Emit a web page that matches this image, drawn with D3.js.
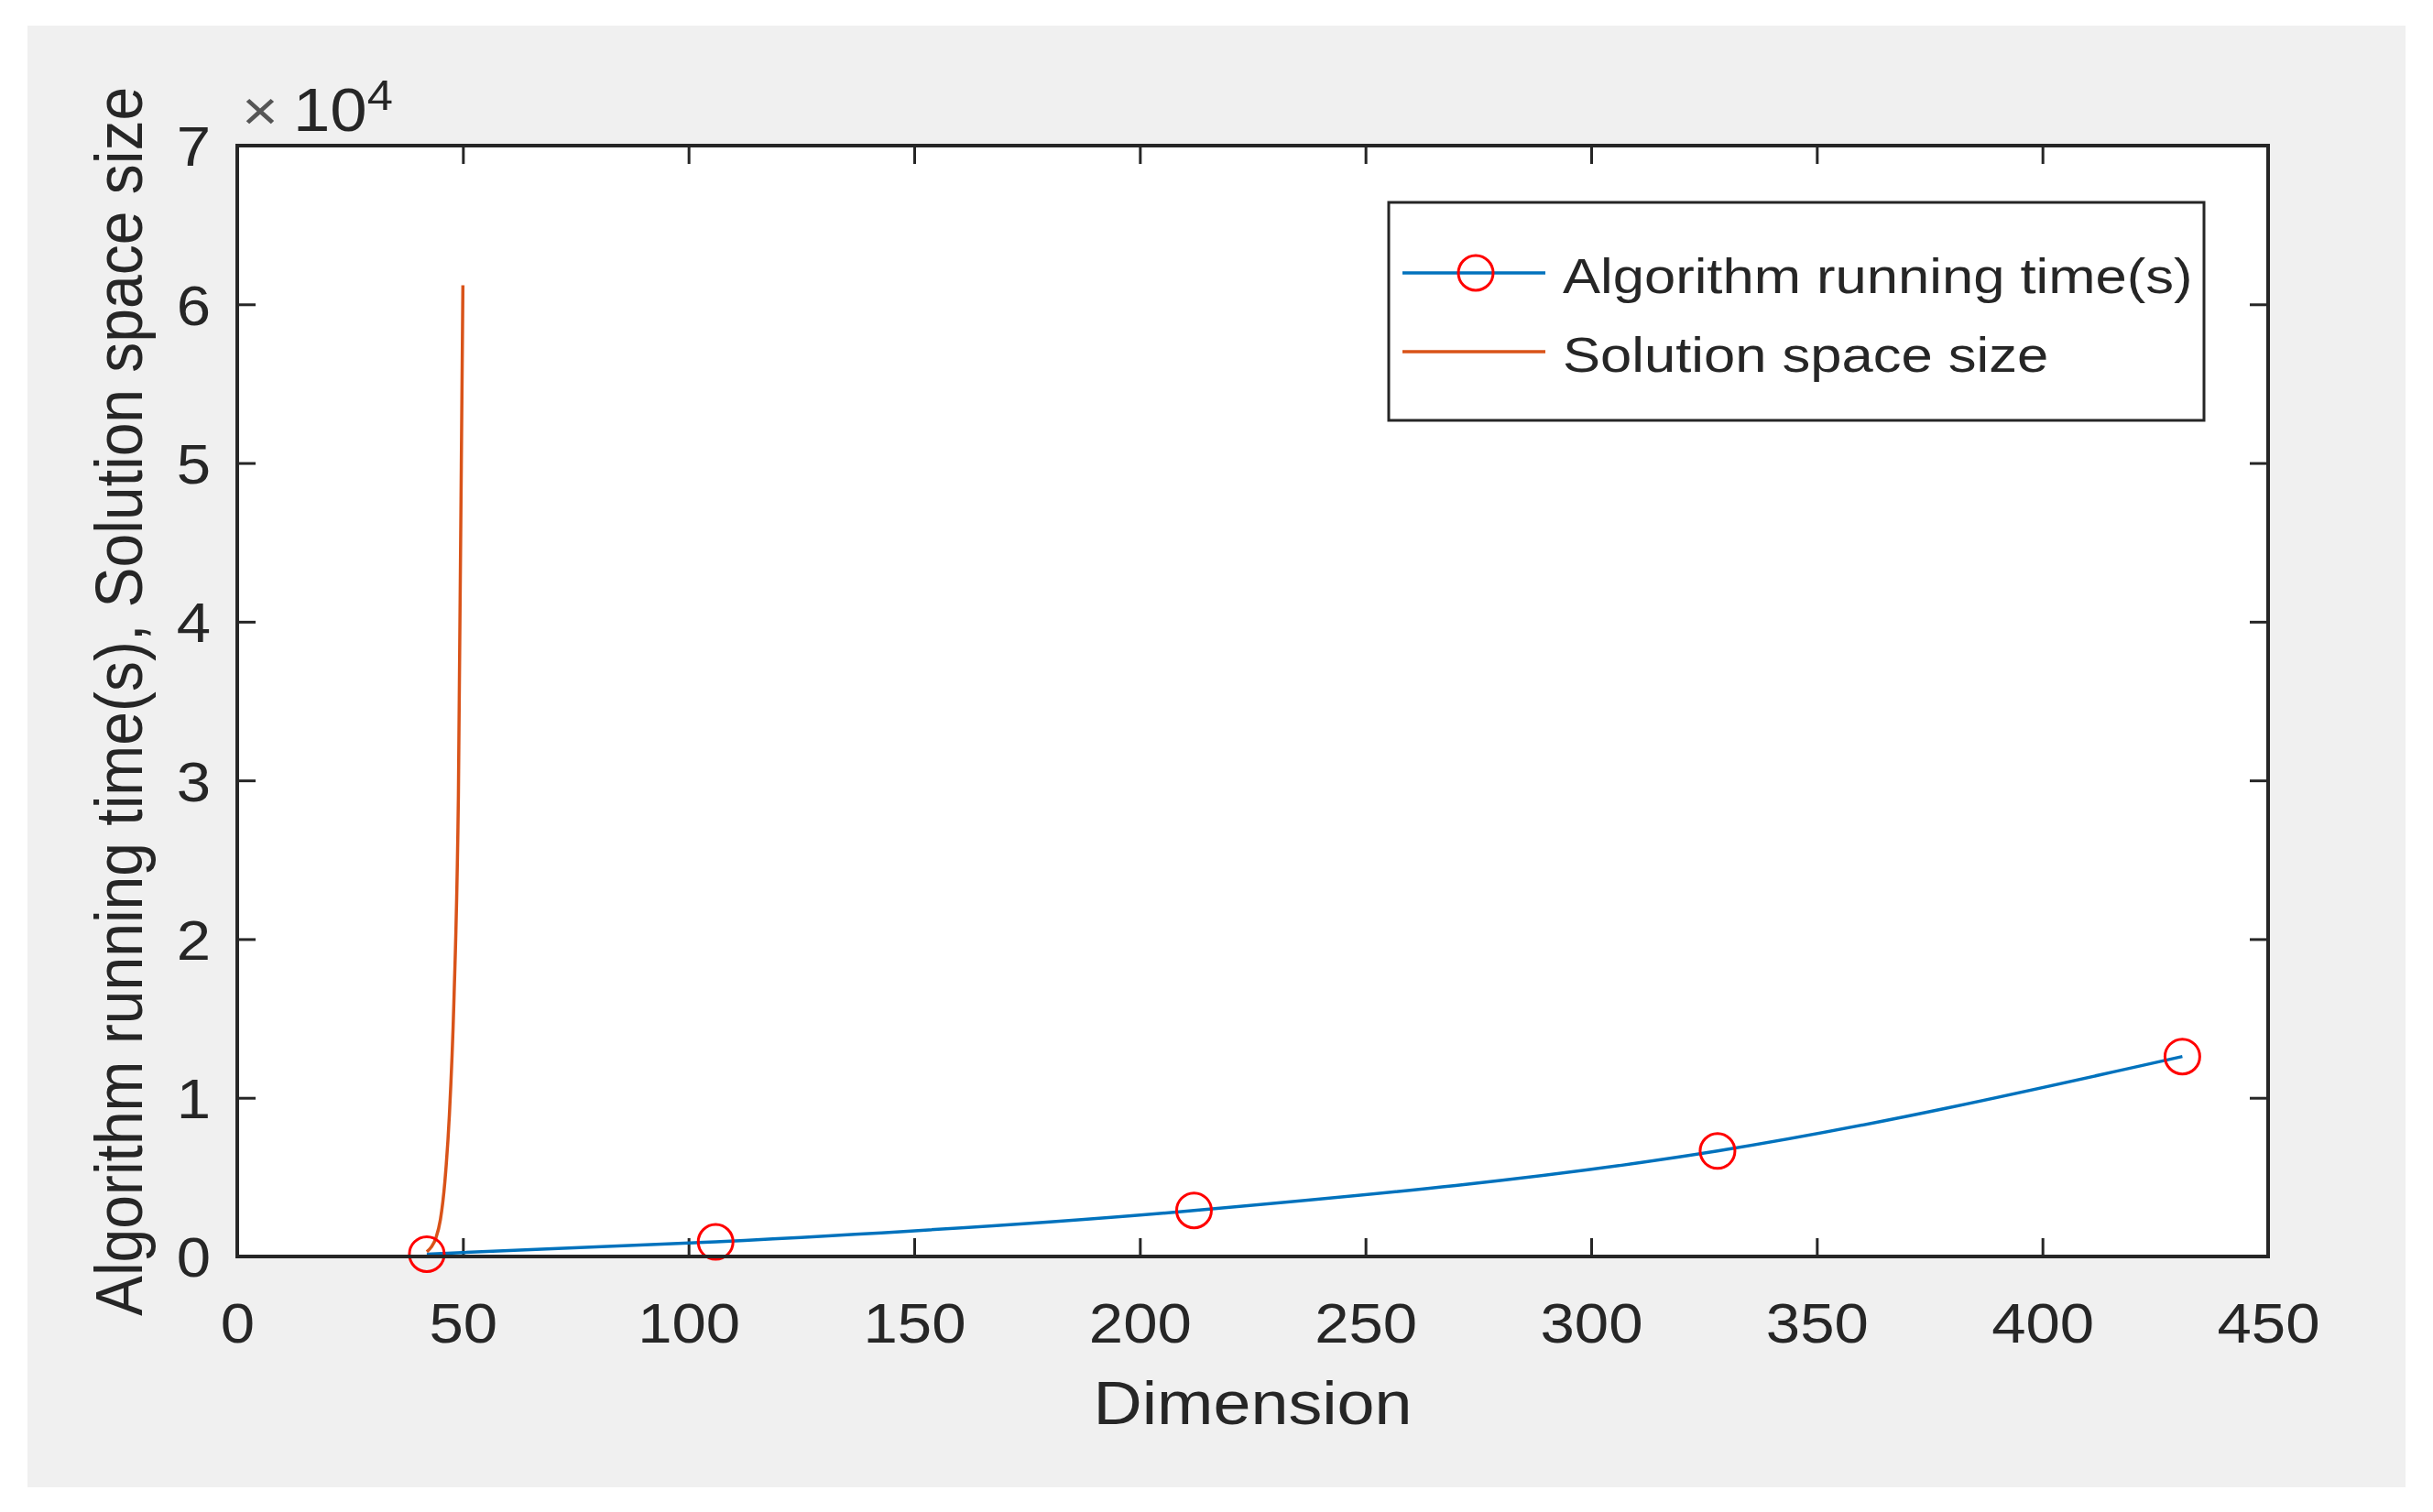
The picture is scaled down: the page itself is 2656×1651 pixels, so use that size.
<!DOCTYPE html>
<html>
<head>
<meta charset="utf-8">
<title>Algorithm running time vs dimension</title>
<script src="https://d3js.org/d3.v7.min.js"></script>
<style>
  body { margin: 0; background: #fff; }
  text { font-family: "Liberation Sans", Arial, Helvetica, sans-serif; fill: #262626; }
</style>
</head>
<body>
<svg width="2656" height="1651"></svg>
<script>
// data
const dims = [42, 106, 212, 328, 431];
const runTime = [150, 920, 2900, 6650, 12600];

const spaceDims = [42, 43, 44, 45, 46, 47, 48, 49, 50];
const spaceSize = [300, 600, 1150, 2300, 4700, 8900, 16000, 29000, 61200];

const xTicks = [0, 50, 100, 150, 200, 250, 300, 350, 400, 450];
const yTicks = [0, 10000, 20000, 30000, 40000, 50000, 60000, 70000];

const legendNames = ["Algorithm running time(s)", "Solution space size"];

const svg = d3.select("svg"),
    width = +svg.attr("width"),
    height = +svg.attr("height");

const stretch = 1.1;   // the figure text is a bit wide
const ink = "#262626";
const blue = "#0072BD", orange = "#D95319";

// gray figure background
svg.append("rect")
    .attr("x", 30).attr("y", 28)
    .attr("width", 2596).attr("height", 1596)
    .attr("fill", "#F0F0F0");

const margin = {left: 259, right: 2476, top: 159, bottom: 1372};

const x = d3.scaleLinear().domain([0, 450]).range([margin.left, margin.right]);
const y = d3.scaleLinear().domain([0, 70000]).range([margin.bottom, margin.top]);

// plot area
svg.append("rect")
    .attr("x", margin.left).attr("y", margin.top)
    .attr("width", margin.right - margin.left)
    .attr("height", margin.bottom - margin.top)
    .attr("fill", "#fff");

// axes, ticks pointing inward
const xAxis = svg.append("g")
    .attr("transform", `translate(0,${margin.bottom})`)
    .call(d3.axisBottom(x).tickValues(xTicks).tickSizeInner(-20).tickSizeOuter(0).tickPadding(51));
xAxis.selectAll("text")
    .style("font-size", "61px")
    .attr("transform", `scale(${stretch},1)`);

const yAxis = svg.append("g")
    .attr("transform", `translate(${margin.left},0)`)
    .call(d3.axisLeft(y).tickValues(yTicks).tickFormat(d => d / 10000).tickSizeInner(-20).tickSizeOuter(0).tickPadding(29));
yAxis.selectAll("text")
    .style("font-size", "61px")
    .attr("x", -29 / stretch)
    .attr("dy", "0.36em")
    .attr("transform", `scale(${stretch},1)`);

svg.append("g")
    .attr("transform", `translate(0,${margin.top})`)
    .call(d3.axisTop(x).tickValues(xTicks).tickSizeInner(-20).tickSizeOuter(0).tickFormat(""));
svg.append("g")
    .attr("transform", `translate(${margin.right},0)`)
    .call(d3.axisRight(y).tickValues(yTicks).tickSizeInner(-20).tickSizeOuter(0).tickFormat(""));

svg.selectAll(".domain").remove();
svg.selectAll(".tick line").attr("stroke", ink).attr("stroke-width", 3);

// curves
const line = d3.line().curve(d3.curveMonotoneX);

svg.append("path")
    .datum(dims.map((d, i) => [x(d), y(runTime[i])]))
    .attr("d", line)
    .attr("fill", "none")
    .attr("stroke", blue)
    .attr("stroke-width", 3.5);

svg.append("path")
    .datum(spaceDims.map((d, i) => [x(d), y(spaceSize[i])]))
    .attr("d", line)
    .attr("fill", "none")
    .attr("stroke", orange)
    .attr("stroke-width", 3.5);

svg.selectAll("circle.pt")
    .data(dims)
    .enter()
    .append("circle")
        .attr("class", "pt")
        .attr("cx", d => x(d))
        .attr("cy", (d, i) => y(runTime[i]))
        .attr("r", 19)
        .attr("fill", "none")
        .attr("stroke", "#FF0000")
        .attr("stroke-width", 3);

// box
svg.append("rect")
    .attr("x", margin.left).attr("y", margin.top)
    .attr("width", margin.right - margin.left)
    .attr("height", margin.bottom - margin.top)
    .attr("fill", "none")
    .attr("stroke", ink)
    .attr("stroke-width", 4);

// exponent
svg.append("text")
    .attr("transform", `translate(264,142) scale(${stretch},1)`)
    .style("font-size", "62px")
    .style("fill", "#555")
    .text("\u00d7");
const expo = svg.append("text")
    .attr("transform", `translate(320,143) scale(${stretch},1)`)
    .style("font-size", "66px");
expo.append("tspan").text("10");
expo.append("tspan").text("4").attr("dy", "-0.5em").style("font-size", "46px");

// axis labels
svg.append("text")
    .attr("transform", `translate(${(margin.left + margin.right) / 2},1555) scale(${stretch},1)`)
    .attr("text-anchor", "middle")
    .style("font-size", "67px")
    .text("Dimension");

svg.append("text")
    .attr("transform", `translate(155,766) scale(${stretch},1) rotate(-90)`)
    .attr("text-anchor", "middle")
    .style("font-size", "66px")
    .text("Algorithm running time(s), Solution space size");

// legend
const legend = svg.append("g");
legend.append("rect")
    .attr("x", 1516).attr("y", 221)
    .attr("width", 890).attr("height", 238)
    .attr("fill", "#fff")
    .attr("stroke", ink)
    .attr("stroke-width", 3);

const rows = legend.selectAll("g.row")
    .data(legendNames)
    .enter()
    .append("g")
        .attr("class", "row")
        .attr("transform", (d, i) => `translate(1531,${298 + i * 86})`);

rows.append("line")
    .attr("x1", 0).attr("x2", 156)
    .attr("stroke", (d, i) => i === 0 ? blue : orange)
    .attr("stroke-width", 3.5);

rows.filter((d, i) => i === 0)
    .append("circle")
    .attr("cx", 80).attr("r", 19)
    .attr("fill", "none")
    .attr("stroke", "#FF0000")
    .attr("stroke-width", 3);

rows.append("text")
    .attr("transform", `translate(175,0) scale(1.14,1)`)
    .attr("dy", "0.4em")
    .style("font-size", "54px")
    .text(d => d);
</script>
</body>
</html>
